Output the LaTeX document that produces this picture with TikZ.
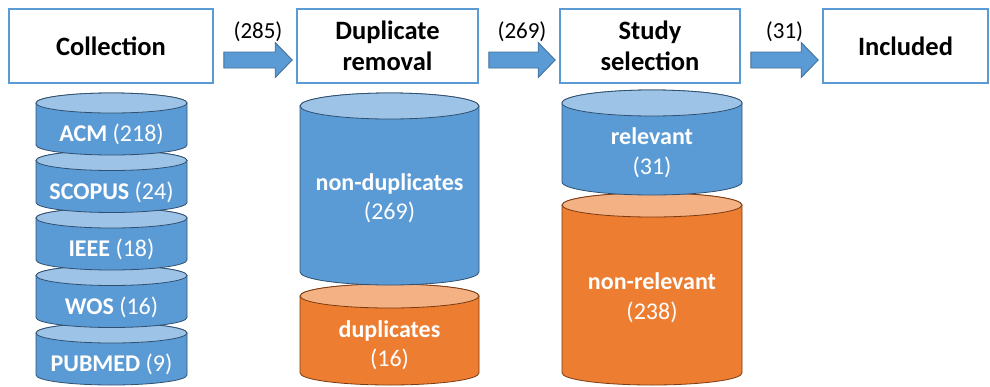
\documentclass[tikz,border=0pt]{standalone}
\usepackage{fontspec}
\setmainfont{Carlito}
\usetikzlibrary{calc}

\definecolor{cylblue}{HTML}{5B9BD5}
\definecolor{cyltopblue}{HTML}{9DC3E6}
\definecolor{cyllineblue}{HTML}{2F5070}
\definecolor{cylorange}{HTML}{ED7D31}
\definecolor{cyltoporange}{HTML}{F4B183}
\definecolor{cyllineorange}{HTML}{7A3A12}
\definecolor{arrowline}{HTML}{41719C}

\tikzset{
  stagebox/.style={draw=cylblue,line width=1.6pt,fill=white,align=center,inner sep=0pt,
    minimum height=74pt,font=\fontsize{26.5}{31}\selectfont\bfseries},
  cyltext/.style={text=white,align=center,font=\fontsize{24}{29.5}\selectfont},
  arrowshape/.style={fill=cylblue,draw=arrowline,line width=0.9pt},
  flowlabel/.style={font=\fontsize{23}{26}\selectfont}
}

% cylinder: x left, x right, y top, y bottom, y radius, body, top, line
\newcommand{\drawcyl}[8]{%
  \pgfmathsetmacro{\cylrx}{(#2-#1)/2}
  \pgfmathsetmacro{\cylcx}{(#1+#2)/2}
  \filldraw[fill=#6,draw=#8,line width=0.8pt] (#1,#3) -- (#1,#4)
    arc[start angle=180,end angle=0,x radius=\cylrx,y radius=#5] -- (#2,#3)
    arc[start angle=0,end angle=-180,x radius=\cylrx,y radius=#5] -- cycle;
  \filldraw[fill=#7,draw=#8,line width=0.8pt] (\cylcx,#3) ellipse[x radius=\cylrx,y radius=#5];
}

% block arrow from box to box, with its count above
\newcommand{\flowarrow}[4]{%
  \draw[arrowshape] let \p1=($(#1.east)+(10,14)$), \p2=($(#2.west)+(-4,14)$) in
    (\x1,\y1+8pt) -- (\x2-17pt,\y1+8pt) -- (\x2-17pt,\y1+17.5pt) -- (\x2,\y1)
    -- (\x2-17pt,\y1-17.5pt) -- (\x2-17pt,\y1-8pt) -- (\x1,\y1-8pt) -- cycle
    node[flowlabel] (#3) at ({(\x1+\x2)/2},\y1+28pt) {#4};
}

\begin{document}
\begin{tikzpicture}[x=1pt,y=-1pt]
\useasboundingbox (0,0) rectangle (990,386);

% stages
\node[stagebox,minimum width=204pt] (coll) at (111,46) {Collection};
\node[stagebox,minimum width=181pt] (dup) at (387.5,46) {Duplicate\\removal};
\node[stagebox,minimum width=180pt] (study) at (650,46) {Study\\selection};
\node[stagebox,minimum width=165pt] (incl) at (905.5,46) {Included};

\flowarrow{coll}{dup}{n285}{(285)}
\flowarrow{dup}{study}{n269}{(269)}
\flowarrow{study}{incl}{n31}{(31)}

% databases
\foreach \i/\db/\num in {4/PUBMED/9,3/WOS/16,2/IEEE/18,1/SCOPUS/24,0/ACM/218} {
  \pgfmathsetmacro{\ytop}{103+57.5*\i}
  \drawcyl{36}{187}{\ytop}{\ytop+42}{10}{cylblue}{cyltopblue}{cyllineblue}
  \node[cyltext] (db\i) at (111.5,\ytop+31.5) {\textbf{\db} (\num)};
}

% duplicate removal
\drawcyl{300}{479}{296}{373}{12}{cylorange}{cyltoporange}{cyllineorange}
\drawcyl{300}{479}{106}{272}{13}{cylblue}{cyltopblue}{cyllineblue}
\node[cyltext] (nondup) at (389.5,198) {\textbf{non-duplicates}\\(269)};
\node[cyltext] (dups) at (389.5,345) {\textbf{duplicates}\\(16)};

% study selection
\drawcyl{562}{742}{205}{373}{12}{cylorange}{cyltoporange}{cyllineorange}
\drawcyl{562}{742}{103}{182}{13}{cylblue}{cyltopblue}{cyllineblue}
\node[cyltext] (rel) at (652,152.5) {\textbf{relevant}\\(31)};
\node[cyltext] (nonrel) at (652,297.5) {\textbf{non-relevant}\\(238)};
\end{tikzpicture}
\end{document}
